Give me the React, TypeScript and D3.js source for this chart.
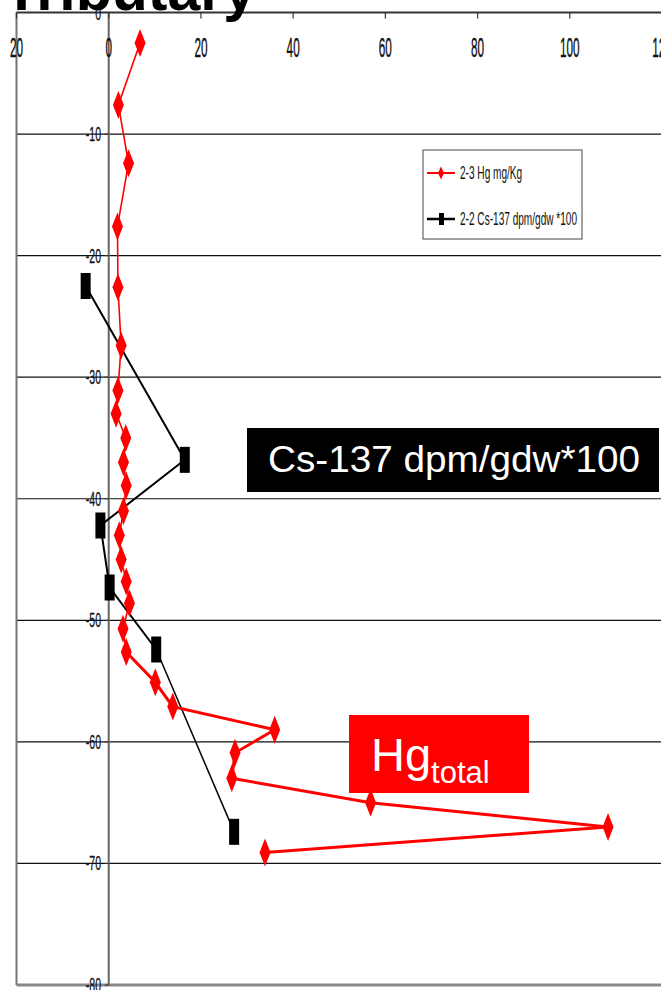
import React from 'react';
import * as d3 from 'd3';

// Hg (mg/Kg) profile: depth (cm) and value
const hgDepth = [-2.5, -7.6, -12.4, -17.6, -22.6, -27.4, -31.1, -33, -35, -37, -38.9, -41, -43, -45, -46.8, -48.6, -50.7, -52.6, -55.1, -57.1, -59, -60.9, -63, -65, -67, -69.1];
const hgValue = [6.8, 2.1, 4.3, 1.9, 2.0, 2.7, 2.0, 1.6, 3.7, 3.2, 3.8, 3.2, 2.3, 2.7, 3.8, 4.5, 3.1, 3.8, 10.1, 13.9, 36.0, 27.4, 26.7, 56.8, 108.3, 33.9];
// Cs-137 dpm/gdw *100 profile
const csDepth = [-22.5, -36.8, -42.2, -47.3, -52.4, -67.4];
const csValue = [-5.0, 16.5, -1.8, 0.2, 10.3, 27.2];

const xTicks = [-20, 0, 20, 40, 60, 80, 100, 120];
const xTickLabels = ['20', '0', '20', '40', '60', '80', '100', '120'];
const yTicks = [0, -10, -20, -30, -40, -50, -60, -70, -80];

const legendLabels = ['2-3 Hg mg/Kg', '2-2 Cs-137 dpm/gdw *100'];
const titleText = 'Tributary';
const csNote = 'Cs-137 dpm/gdw*100';

export default function App() {
  const x = d3.scaleLinear().domain([-20, 120]).range([16.5, 662]);
  const y = d3.scaleLinear().domain([0, -80]).range([12.5, 985]);

  const hgPts: [number, number][] = hgDepth.map((d, i) => [x(hgValue[i]), y(d)]);
  const csPts: [number, number][] = csDepth.map((d, i) => [x(csValue[i]), y(d)]);
  const line = d3.line();
  const split = 17; // thin upper part, thick lower part
  const hgThin = line(hgPts.slice(0, split + 1)) || '';
  const hgThick = line(hgPts.slice(split)) || '';
  const csUpper = line(csPts.slice(0, 5)) || '';
  const csLower = line(csPts.slice(4)) || '';

  const diamond = (cx: number, cy: number, w: number, h: number) =>
    `M${cx},${cy - h / 2}L${cx + w / 2},${cy}L${cx},${cy + h / 2}L${cx - w / 2},${cy}Z`;

  const font = '"Liberation Sans", Arial, sans-serif';

  return (
    <svg width={661} height={990} style={{ position: 'absolute', left: 0, top: 0, background: '#fff' }}>
      <rect x={0} y={0} width={661} height={990} fill="#fff" />
      {/* horizontal gridlines */}
      {yTicks.slice(1, -1).map((t) => (
        <line key={'g' + t} x1={x(-20)} x2={661} y1={y(t)} y2={y(t)} stroke="#111" strokeWidth={1.2} />
      ))}
      {/* bottom frame */}
      <line x1={x(-20)} x2={661} y1={y(-80)} y2={y(-80)} stroke="#888" strokeWidth={3} />
      {/* left frame */}
      <line x1={x(-20)} x2={x(-20)} y1={y(0)} y2={y(-80)} stroke="#777" strokeWidth={2} />
      {/* y axis */}
      <line x1={x(0)} x2={x(0)} y1={y(0)} y2={y(-80)} stroke="#666" strokeWidth={2} />
      {yTicks.map((t) => (
        <line key={'yt' + t} x1={x(0) - 4} x2={x(0)} y1={y(t)} y2={y(t)} stroke="#333" strokeWidth={1} />
      ))}
      {/* top x axis */}
      <line x1={x(-20)} x2={661} y1={y(0)} y2={y(0)} stroke="#333" strokeWidth={1.8} />
      {xTicks.map((t) => (
        <line key={'xt' + t} x1={x(t)} x2={x(t)} y1={y(0)} y2={y(0) + 6} stroke="#333" strokeWidth={1.2} />
      ))}
      {xTicks.map((t, i) => (
        <text key={'xl' + t} transform={`translate(${x(t)},${57}) scale(0.42,1)`} textAnchor="middle"
          fontFamily={font} fontSize={28} fill="#111" stroke="#111" strokeWidth={0.4}>{xTickLabels[i]}</text>
      ))}
      {yTicks.map((t) => (
        <text key={'yl' + t} transform={`translate(${101},${y(t) + 7}) scale(0.5,1)`} textAnchor="end"
          fontFamily={font} fontSize={21} fill="#111" stroke="#111" strokeWidth={0.3}>{String(t)}</text>
      ))}

      {/* Cs-137 series */}
      <path d={csUpper} fill="none" stroke="#000" strokeWidth={2} />
      <path d={csLower} fill="none" stroke="#000" strokeWidth={1.5} />
      {csPts.map(([cx, cy], i) => (
        <rect key={'cs' + i} x={cx - 5} y={cy - 13} width={10} height={26} fill="#000" />
      ))}

      {/* Hg series */}
      <path d={hgThin} fill="none" stroke="#f00" strokeWidth={1.6} />
      <path d={hgThick} fill="none" stroke="#f00" strokeWidth={3} />
      {hgPts.map(([cx, cy], i) => (
        <path key={'hg' + i} d={diamond(cx, cy, 11, 28)} fill="#f00" />
      ))}

      {/* legend */}
      <rect x={423} y={150} width={159} height={89} fill="#fff" stroke="#444" strokeWidth={1} />
      <line x1={427} x2={455} y1={173} y2={173} stroke="#f00" strokeWidth={2} />
      <path d={diamond(441, 173, 6, 13)} fill="#f00" />
      <text transform={`translate(460,179) scale(0.56,1)`} fontFamily={font} fontSize={18} fill="#111">{legendLabels[0]}</text>
      <line x1={427} x2={455} y1={219} y2={219} stroke="#000" strokeWidth={2.5} />
      <rect x={439} y={213} width={5} height={12} fill="#000" />
      <text transform={`translate(460,225) scale(0.56,1)`} fontFamily={font} fontSize={18} fill="#111">{legendLabels[1]}</text>

      {/* Cs annotation */}
      <rect x={247} y={428} width={412} height={64} fill="#000" />
      <text x={268} y={472} fontFamily={font} fontSize={37} fill="#fff" textLength={372} lengthAdjust="spacingAndGlyphs">{csNote}</text>

      {/* Hg annotation */}
      <rect x={349} y={715} width={180} height={78} fill="#f00" />
      <text x={371} y={771} fontFamily={font} fill="#fff">
        <tspan fontSize={47}>Hg</tspan>
        <tspan fontSize={31} dy={12}>total</tspan>
      </text>

      {/* title (cropped) */}
      <rect x={0} y={0} width={661} height={7} fill="#fff" />
      <text x={256} y={10} textAnchor="end" fontFamily={font} fontWeight="bold" fontSize={59} fill="#000">{titleText}</text>
    </svg>
  );
}
